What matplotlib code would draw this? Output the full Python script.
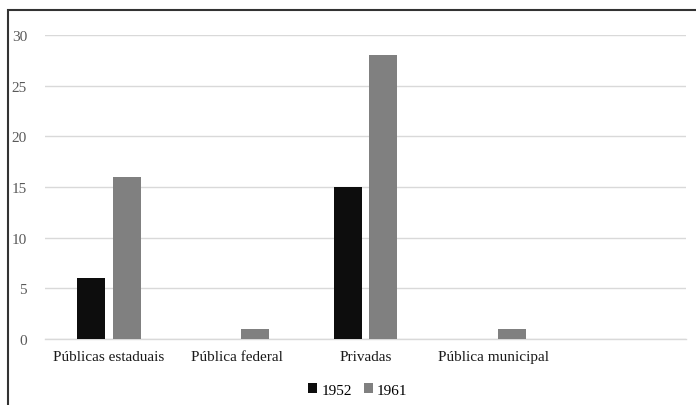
import matplotlib.pyplot as plt
from matplotlib.patches import Rectangle
import numpy as np

categories = ["Públicas estaduais", "Pública federal", "Privadas", "Pública municipal", ""]
v1952 = [6, 0, 15, 0, 0]
v1961 = [16, 1, 28, 1, 0]

plt.rcParams["font.family"] = ["Liberation Serif", "DejaVu Serif"]

fig = plt.figure(figsize=(6.96, 4.06), dpi=100)
ax = fig.add_axes([45 / 696, 1 - 340 / 406, 641 / 696, 304 / 406])

x = np.arange(len(categories))
w = 0.218
off = 0.14
ax.bar(x - off, v1952, w, color="#0d0d0d", label="1952", zorder=3)
ax.bar(x + off, v1961, w, color="#808080", label="1961", zorder=3)

ax.set_xlim(-0.5, len(categories) - 0.5)
ax.set_ylim(0, 30)
ax.set_yticks(range(0, 31, 5))
ax.set_xticks(x)
ax.set_xticklabels(categories, fontsize=11, color="#1a1a1a")
ax.tick_params(axis="y", length=0, pad=13, labelsize=11, labelcolor="#595959")
ax.tick_params(axis="x", length=0, pad=8)
ax.grid(axis="y", color="#d9d9d9", linewidth=1, zorder=0)
for s in ["top", "right", "left"]:
    ax.spines[s].set_visible(False)
ax.spines["bottom"].set_color("#d9d9d9")
ax.spines["bottom"].set_linewidth(1)

fig.legend(
    loc="center",
    bbox_to_anchor=(358 / 696, 1 - 391 / 406),
    ncol=2,
    frameon=False,
    fontsize=11,
    handlelength=0.55,
    handleheight=0.55,
    handletextpad=0.3,
    columnspacing=0.8,
)

# outer frame, running off the right and bottom edges
fig.patches.append(
    Rectangle((8 / 696, -0.1), 1.1, 1 - 11 / 406 + 0.1, transform=fig.transFigure,
              fill=False, edgecolor="#333333", linewidth=1.5)
)

fig.savefig("out.png", dpi=100)
